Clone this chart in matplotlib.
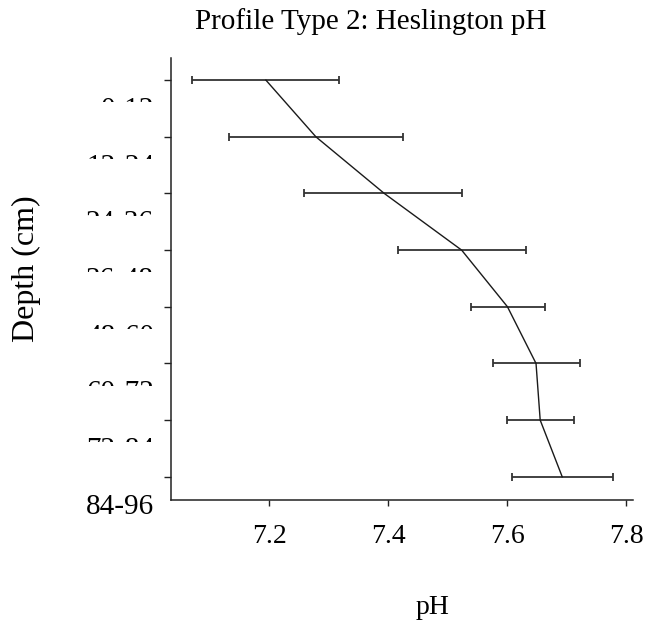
import numpy as np
from matplotlib import pyplot as plt
from matplotlib.patches import Rectangle
from matplotlib import transforms

depths = ['0-12', '12-24', '24-36', '36-48', '48-60', '60-72', '72-84', '84-96']
ph_mean = [7.194, 7.278, 7.393, 7.523, 7.600, 7.648, 7.655, 7.692]
ph_low = [7.070, 7.132, 7.258, 7.416, 7.539, 7.575, 7.599, 7.607]
ph_high = [7.317, 7.424, 7.524, 7.631, 7.663, 7.722, 7.712, 7.777]

plt.rcParams['font.family'] = ['Liberation Serif', 'DejaVu Serif']

fig = plt.figure(figsize=(6.46, 6.28), dpi=100)
ax = fig.add_axes([0.2647, 0.2038, 0.7152, 0.7038])

pos = np.arange(len(depths))
mean = np.array(ph_mean)
xerr = [mean - np.array(ph_low), np.array(ph_high) - mean]

ax.errorbar(mean, pos, xerr=xerr, fmt='none', ecolor='#333333',
            elinewidth=1.3, capsize=3, capthick=1.3)
ax.plot(mean, pos, color='#1a1a1a', lw=1.0)

ax.set_xlim(7.0345, 7.811)
ax.set_ylim(7.41, -0.39)
ax.set_xticks([7.2, 7.4, 7.6, 7.8])
ax.set_xticklabels(['7.2', '7.4', '7.6', '7.8'], fontsize=20)
ax.set_yticks(pos)
ax.set_yticklabels([])
ax.tick_params(axis='y', length=5, width=1, color='#222222')
ax.tick_params(axis='x', length=4, width=1, color='#222222', pad=13)
for s in ['top', 'right']:
    ax.spines[s].set_visible(False)
for s in ['left', 'bottom']:
    ax.spines[s].set_color('#222222')
    ax.spines[s].set_linewidth(1.1)

# depth labels sit between the ticks; the upper ones only show their top part
trans = transforms.blended_transform_factory(fig.transFigure, ax.transData)
for i, lab in enumerate(depths):
    y = i + 0.53
    t = fig.text(154 / 646, y, lab, transform=trans, ha='right', va='center',
                 fontsize=21)
    if i < len(depths) - 1:
        clip = Rectangle((0, y - 0.6), 0.26, 0.46, transform=trans,
                         facecolor='none', edgecolor='none')
        fig.add_artist(clip)
        t.set_clip_path(clip)

fig.text(371 / 646, 1 - 22 / 628, 'Profile Type 2: Heslington pH',
         ha='center', va='center', fontsize=21)
fig.text(26 / 646, 1 - 269 / 628, 'Depth (cm)', rotation=90,
         ha='center', va='center', fontsize=23)
fig.text(433 / 646, 1 - 607 / 628, 'pH', ha='center', va='center',
         fontsize=20)

fig.savefig('out.png', dpi=100)
